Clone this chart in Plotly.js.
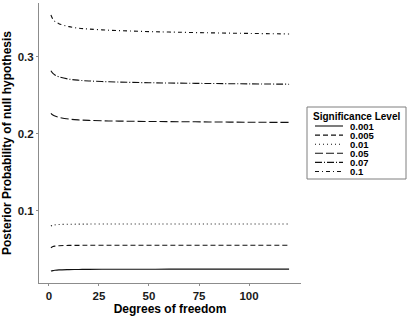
<!DOCTYPE html>
<html><head><meta charset="utf-8">
<script src="https://cdn.plot.ly/plotly-3.0.1.min.js"></script>
<style>html,body{margin:0;padding:0;background:#fff}#chart{width:409px;height:316px}</style>
</head><body><div id="chart"></div>
<script>
const df = [1, 2, 3, 5, 10, 15, 20, 30, 40, 50, 60, 80, 100, 120];
const levels = ["0.001", "0.005", "0.01", "0.05", "0.07", "0.1"];
const p001 = [0.0220, 0.0226, 0.0230, 0.0235, 0.0239, 0.0241, 0.0242, 0.0243, 0.0244, 0.0244, 0.0245, 0.0245, 0.0245, 0.0245];
const p005 = [0.0522, 0.0538, 0.0544, 0.0549, 0.0553, 0.0554, 0.0555, 0.0555, 0.0556, 0.0556, 0.0556, 0.0556, 0.0556, 0.0556];
const p01  = [0.0805, 0.0815, 0.0820, 0.0825, 0.0828, 0.0829, 0.0830, 0.0830, 0.0831, 0.0831, 0.0831, 0.0831, 0.0831, 0.0831];
const p05  = [0.2268, 0.2245, 0.2232, 0.2215, 0.2193, 0.2182, 0.2176, 0.2169, 0.2165, 0.2162, 0.2160, 0.2156, 0.2152, 0.2150];
const p07  = [0.2820, 0.2785, 0.2765, 0.2742, 0.2712, 0.2697, 0.2688, 0.2677, 0.2670, 0.2665, 0.2661, 0.2655, 0.2650, 0.2646];
const p10  = [0.3545, 0.3490, 0.3462, 0.3432, 0.3393, 0.3373, 0.3362, 0.3347, 0.3337, 0.3329, 0.3323, 0.3313, 0.3305, 0.3298];
const series = [p001, p005, p01, p05, p07, p10];
const xTicks = [0, 25, 50, 75, 100];
const yTicks = [0.1, 0.2, 0.3];

const dashes = ["solid", "5px,3px", "1px,3px", "8px,3px", "7px,2px,1px,2px", "4px,3px,1px,3px"];
const FONT = "Liberation Sans, Arial, sans-serif";

const traces = series.map((s, i) => ({
  x: df, y: s, type: "scatter", mode: "lines", name: levels[i],
  line: {color: "#111", width: 1.1, dash: dashes[i], shape: "spline"},
  showlegend: false, hoverinfo: "skip"
}));

// plot area in pixels
const L = 39, R = 301, T = 3, B = 283;
const W = 409, H = 316;
const px = v => (v - L) / (R - L);
const py = v => (B - v) / (B - T);

const shapes = [{
  type: "rect", xref: "paper", yref: "paper",
  x0: px(307), x1: px(406), y0: py(179), y1: py(107),
  line: {color: "#7f7f7f", width: 1}, fillcolor: "rgba(0,0,0,0)"
}];
const annotations = [{
  xref: "paper", yref: "paper", x: px(311), y: py(116.5), xanchor: "left", yanchor: "middle",
  text: "Significance Level", showarrow: false,
  font: {family: FONT, size: 10, color: "#000", weight: "bold"}
}];
levels.forEach((lv, i) => {
  const yc = 126 + i * 9.1;
  shapes.push({
    type: "line", xref: "paper", yref: "paper",
    x0: px(315), x1: px(343), y0: py(yc), y1: py(yc),
    line: {color: "#111", width: 1.1, dash: dashes[i]}
  });
  annotations.push({
    xref: "paper", yref: "paper", x: px(348), y: py(yc), xanchor: "left", yanchor: "middle",
    text: lv, showarrow: false, height: 9,
    font: {family: FONT, size: 9.5, color: "#000", weight: "bold"}
  });
});

const layout = {
  width: W, height: H,
  margin: {l: L, r: W - R, t: T, b: H - B, pad: 0},
  paper_bgcolor: "#fff", plot_bgcolor: "#fff",
  showlegend: false,
  xaxis: {
    range: [-4.95, 125.95], tickvals: xTicks, ticktext: xTicks.map(String),
    showgrid: false, zeroline: false, showline: true, linecolor: "#8c8c8c", linewidth: 1,
    ticks: "outside", ticklen: 2, tickcolor: "#8c8c8c", tickwidth: 1,
    tickfont: {family: FONT, size: 11.5, color: "#1a1a1a", weight: "bold"},
    title: {text: "Degrees of freedom", standoff: 4, font: {family: FONT, size: 12, color: "#000", weight: "bold"}}
  },
  yaxis: {
    range: [0.0065, 0.370], tickvals: yTicks, ticktext: yTicks.map(String),
    showgrid: false, zeroline: false, showline: true, linecolor: "#8c8c8c", linewidth: 1,
    ticks: "outside", ticklen: 2, tickcolor: "#8c8c8c", tickwidth: 1,
    tickfont: {family: FONT, size: 11.5, color: "#1a1a1a", weight: "bold"},
    title: {text: "Posterior Probability of null hypothesis", standoff: 4, font: {family: FONT, size: 12, color: "#000", weight: "bold"}}
  },
  shapes: shapes,
  annotations: annotations
};
Plotly.newPlot("chart", traces, layout, {staticPlot: true, displayModeBar: false});
</script>
</body></html>
